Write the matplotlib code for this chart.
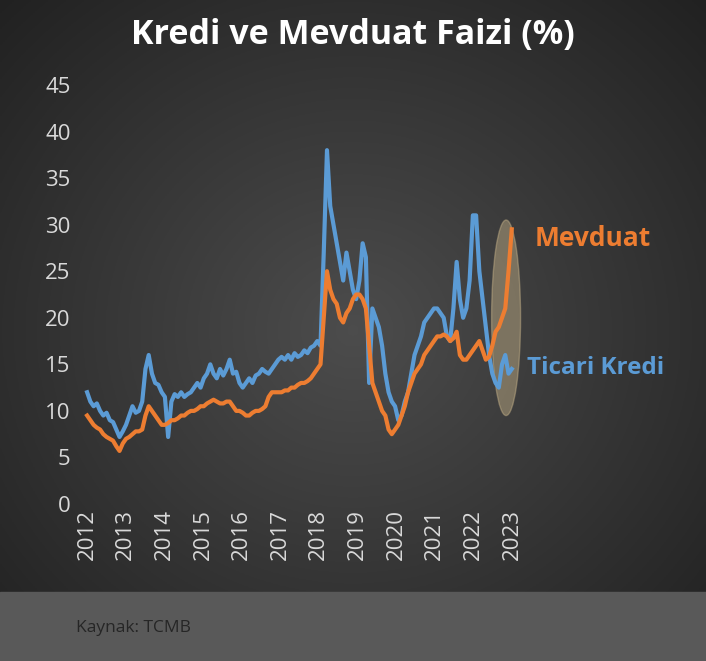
import numpy as np
import matplotlib
matplotlib.use("Agg")
import matplotlib.pyplot as plt
from matplotlib.patches import Ellipse

plt.rcParams['font.family'] = ['Open Sans', 'DejaVu Sans']

years = list(range(2012, 2024))
kredi = [12,11,10.5,10.8,10,9.5,9.8,9,8.8,8,7.2,7.8,
         8.5,9.5,10.5,9.8,10,11,14.5,16,14,13,12.8,12,
         11.5,7.2,11,11.8,11.5,12,11.5,11.8,12,12.5,13,12.5,
         13.5,14,15,14,13.5,14.5,13.8,14.5,15.5,14,14.2,13,
         12.5,13,13.5,13,13.8,14,14.5,14.2,14,14.5,15,15.5,
         15.8,15.5,16,15.5,16.2,15.8,16,16.5,16.2,16.8,17,17.5,
         17,27,38,32,30,28,26,24,27,25,23,22,
         24,28,26.5,13,21,20,19,17,14,12,11,10.5,
         9,9.5,11,12,14,16,17,18,19.5,20,20.5,21,
         21,20.5,20,18,17.5,21,26,22,20,21,24,31,
         31,25,22,19,16,14,13,12.5,15,16,14,14.5]
mevduat = [9.5,9,8.5,8.2,8,7.5,7.2,7,6.8,6.2,5.7,6.5,
           7,7.2,7.5,7.8,7.8,8,9.5,10.5,10,9.5,9,8.5,
           8.5,8.7,9,9,9.2,9.5,9.5,9.8,10,10,10.2,10.5,
           10.5,10.8,11,11.2,11,10.8,10.8,11,11,10.5,10,10,
           9.8,9.5,9.5,9.8,10,10,10.2,10.5,11.5,12,12,12,
           12,12.2,12.2,12.5,12.5,12.8,13,13,13.2,13.5,14,14.5,
           15,20,25,23,22,21.5,20,19.5,20.5,21,22,22.5,
           22.5,22,21,17,13,12,11,10,9.5,8,7.5,8,
           8.5,9.5,10.5,12,13,14,14.5,15,16,16.5,17,17.5,
           18,18,18.2,18,17.5,17.8,18.5,16,15.5,15.5,16,16.5,
           17,17.5,16.5,15.5,15.8,17,18.5,19,20,21,25,29.5]
t = 2012 + np.arange(len(kredi)) / 12 * (11 / 10.92)

fig = plt.figure(figsize=(7.06, 6.61), dpi=100)
bg = fig.add_axes([0, 0, 1, 1])
yy, xx = np.mgrid[-1:1:300j, -1:1:300j]
r = np.sqrt(xx**2 + yy**2)
g = np.clip(0.30 - 0.12 * r, 0.13, 0.3)
bg.imshow(np.dstack([g, g, g]), extent=[0, 1, 0, 1], aspect='auto')
bg.add_patch(plt.Rectangle((0, 0), 1, 69/661, color='#595959'))
bg.set_xlim(0, 1); bg.set_ylim(0, 1); bg.axis('off')
bg.text(76/706, 1 - 628/661, 'Kaynak: TCMB', color='#262626', fontsize=12.5, va='center')
fig.text(0.5, 1 - 35/661, 'Kredi ve Mevduat Faizi (%)', color='white', fontsize=24.5,
         fontweight='bold', ha='center', va='center')

ax = fig.add_axes([84/706 - 0.012, 1 - 504/661, (515 - 84)/706 + 0.024, (504 - 85)/661])
ax.set_facecolor('none')
ax.plot(t, kredi, color='#5B9BD5', lw=3)
ax.plot(t, mevduat, color='#ED7D31', lw=3)
ax.add_patch(Ellipse((2022.85, 20), 0.75, 21, color='#c8b48a', alpha=0.45, zorder=0))
ax.set_ylim(0, 45)
ax.set_xlim(2012 - 0.3, 2023 + 0.3)
ax.set_yticks(range(0, 50, 5))
ax.set_xticks(years)
ax.set_xticklabels([str(y) for y in years], rotation=90)
ax.tick_params(colors='#d9d9d9', labelsize=16, length=0)
for s in ax.spines.values():
    s.set_visible(False)
fig.text(535/706, 1 - 238/661, 'Mevduat', color='#ED7D31', fontsize=19, fontweight='bold', va='center')
fig.text(527/706, 1 - 368/661, 'Ticari Kredi', color='#5B9BD5', fontsize=17.5, fontweight='bold', va='center')
fig.savefig('out.png', dpi=100)
